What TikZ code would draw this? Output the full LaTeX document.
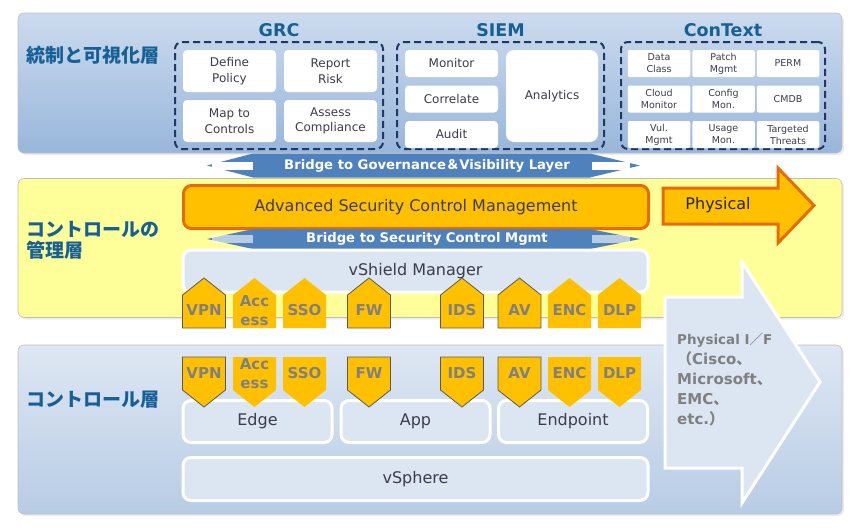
\documentclass[tikz,border=0pt]{standalone}
\usepackage{fontspec}
\setmainfont{DejaVu Sans}
\newfontfamily\jpfont{Noto Sans CJK JP}
\usetikzlibrary{positioning, shadows}
\definecolor{layerblue}{RGB}{23,96,150}
\definecolor{govtop}{RGB}{204,219,238}
\definecolor{govbot}{RGB}{152,182,219}
\definecolor{ctrltop}{RGB}{222,231,243}
\definecolor{ctrlbot}{RGB}{184,204,229}
\definecolor{mgmtyellow}{RGB}{255,255,153}
\definecolor{groupnavy}{RGB}{31,56,100}
\definecolor{boxtext}{RGB}{60,60,75}
\definecolor{boxblue}{RGB}{220,230,242}
\definecolor{bridgeblue}{RGB}{79,129,189}
\definecolor{tagorange}{RGB}{255,192,0}
\definecolor{edgeorange}{RGB}{228,108,10}
\definecolor{taggray}{RGB}{128,128,128}
\definecolor{tagline}{RGB}{90,90,90}

\begin{document}
\begin{tikzpicture}[x=1pt, y=-1pt,
    panel/.style={rounded corners=6, draw=black!25, line width=0.6, inner sep=0,
        drop shadow={opacity=0.15, shadow xshift=2pt, shadow yshift=-2pt}},
    layerlabel/.style={font=\jpfont\bfseries\fontsize{19}{21}\selectfont, text=layerblue, inner sep=1, align=left, anchor=west},
    group/.style={draw=groupnavy, line width=2, dash pattern=on 7pt off 4pt, rounded corners=7, inner sep=0},
    grouptitle/.style={font=\bfseries\fontsize{17.5}{20}\selectfont, text=layerblue, inner sep=1},
    cell/.style={fill=white, rounded corners=4, inner sep=0, outer sep=0, align=center, text=boxtext,
        minimum width=93, minimum height=42, font=\fontsize{12}{15.5}\selectfont},
    smallcell/.style={cell, rounded corners=2, minimum width=62.5, minimum height=27, font=\fontsize{9.5}{12}\selectfont},
    bridge/.style={fill=bridgeblue},
    bridgetext/.style={font=\bfseries\fontsize{13.2}{15}\selectfont, text=white, inner sep=0},
    mgmtbox/.style={fill=tagorange, draw=edgeorange, line width=3, rounded corners=8, inner sep=0,
        font=\fontsize{16}{18}\selectfont, text=boxtext},
    lightbox/.style={fill=boxblue, draw=white, line width=3, rounded corners=8, inner sep=0,
        font=\fontsize{16}{18}\selectfont, text=boxtext},
    tagshape/.style={fill=tagorange},
    outlined/.style={draw=tagline, line width=0.8},
    plainline/.style={},
    tagtext/.style={inner sep=0, align=center, text=taggray, font=\bfseries\fontsize{15}{19}\selectfont},
    iftext/.style={font=\bfseries\fontsize{15}{20}\selectfont, text=taggray, align=left, inner sep=0}]

    \useasboundingbox (0,0) rectangle (854,531);

    % Layers
    \node[panel, top color=govtop, bottom color=govbot, minimum width=824, minimum height=140] (gov) at (430,83) {};
    \node[panel, fill=mgmtyellow, minimum width=824, minimum height=139] (mgmt) at (430,248) {};
    \node[panel, top color=ctrltop, bottom color=ctrlbot, minimum width=824, minimum height=169] (ctrl) at (430,429.5) {};

    \node[layerlabel] (govlabel) at (25,55) {統制と可視化層};
    \node[layerlabel] (mgmtlabel) at (25,240) {コントロールの\\管理層};
    \node[layerlabel] (ctrllabel) at (25,400) {コントロール層};

    % Governance & visibility
    \node[group, minimum width=208, minimum height=107] (grc) at (279,95.5) {};
    \node[group, minimum width=207, minimum height=107] (siem) at (500.5,95.5) {};
    \node[group, minimum width=204, minimum height=107] (context) at (723,95.5) {};
    \node[grouptitle, above=3pt of grc] (grctitle) {GRC};
    \node[grouptitle, above=3pt of siem] (siemtitle) {SIEM};
    \node[grouptitle, above=3pt of context] (contexttitle) {ConText};

    \node[cell] (define) at (229.5,71) {Define\\Policy};
    \node[cell, right=8pt of define] (report) {Report\\Risk};
    \node[cell, below=8pt of define] (mapping) {Map to\\Controls};
    \node[cell, below=8pt of report] (assess) {Assess\\Compliance};

    \node[cell, minimum height=27] (monitor) at (451.5,63.5) {Monitor};
    \node[cell, minimum height=27, below=8.5pt of monitor] (correlate) {Correlate};
    \node[cell, minimum height=27, below=8.5pt of correlate] (audit) {Audit};
    \node[cell, minimum width=92, minimum height=92, rounded corners=8] (analytics) at (552,96) {Analytics};

    \node[smallcell] (dataclass) at (659,63.5) {Data\\Class};
    \node[smallcell, right=2pt of dataclass] (patch) {Patch\\Mgmt};
    \node[smallcell, right=2pt of patch] (perm) {PERM};
    \node[smallcell, below=8.5pt of dataclass] (cloud) {Cloud\\Monitor};
    \node[smallcell, right=2pt of cloud] (config) {Config\\Mon.};
    \node[smallcell, right=2pt of config] (cmdb) {CMDB};
    \node[smallcell, below=8.5pt of cloud] (vul) {Vul.\\Mgmt};
    \node[smallcell, right=2pt of vul] (usage) {Usage\\Mon.};
    \node[smallcell, right=2pt of usage] (threats) {Targeted\\Threats};

    % Bridges
    \fill[bridge] (207,165.5) -- (253,153.5) -- (590,153.5) -- (640,165.5) -- (590,177.5) -- (253,177.5) -- cycle;
    \fill[white] (212,162) rectangle (253,170);
    \fill[white] (592,162) rectangle (630,170);
    \node[bridgetext] (govbridge) at (427,165.5) {Bridge to Governance{\jpfont ＆}Visibility Layer};

    % Management
    \node[mgmtbox, minimum width=465, minimum height=43] (ascm) at (416,207) {Advanced Security Control Management};
    \filldraw[fill=tagorange, draw=edgeorange, line width=3, line join=miter]
        (663,188) -- (778,188) -- (778,168) -- (814,205.5) -- (778,243) -- (778,224) -- (663,224) -- cycle;
    \node[font=\fontsize{16}{18}\selectfont, text=black!85] (physical) at (718,205) {Physical};

    \fill[bridge] (207,239) -- (253,229) -- (590,229) -- (640,239) -- (590,249) -- (253,249) -- cycle;
    \fill[white, fill opacity=0.6] (212,235) rectangle (253,243);
    \fill[white, fill opacity=0.6] (592,235) rectangle (630,243);
    \node[bridgetext] (ctrlbridge) at (427,239) {Bridge to Security Control Mgmt};

    \node[lightbox, minimum width=465, minimum height=42] (vshield) at (415.5,271) {vShield Manager};

    \foreach \x/\id/\lbl/\look in {204/vpn/VPN/outlined, 254.5/access/{Acc\\ess}/plainline, 304.5/sso/SSO/plainline,
            369/fw/FW/outlined, 462/ids/IDS/outlined, 519.5/av/AV/outlined, 569.5/enc/ENC/plainline, 619.5/dlp/DLP/plainline} {
        \path[tagshape, \look] (\x-21.5,328) -- (\x-21.5,295) -- (\x,278) -- (\x+21.5,295) -- (\x+21.5,328) -- cycle;
        \node[tagtext] (\id up) at (\x,310.5) {\lbl};
    }

    % Control
    \filldraw[fill=boxblue, draw=white, line width=3, line join=miter]
        (665,297) -- (742,297) -- (742,262) -- (820,382) -- (742,503) -- (742,468) -- (665,468) -- cycle;
    \node[iftext, anchor=north west] (physif) at (677,333)
        {{\fontsize{13.5}{20}\selectfont Physical I{\jpfont ／}F}\\{\jpfont （}Cisco{\jpfont 、}\\Microsoft{\jpfont 、}\\EMC{\jpfont 、}\\etc.{\jpfont ）}};

    \node[lightbox, minimum width=149, minimum height=42] (edge) at (257.5,421.5) {Edge};
    \node[lightbox, minimum width=149, minimum height=42] (app) at (415.5,421.5) {App};
    \node[lightbox, minimum width=149, minimum height=42] (endpoint) at (573,421.5) {Endpoint};
    \node[lightbox, minimum width=465, minimum height=43] (vsphere) at (415.5,479) {vSphere};

    \foreach \x/\id/\lbl/\look in {204/vpn/VPN/outlined, 254.5/access/{Acc\\ess}/plainline, 304.5/sso/SSO/plainline,
            369/fw/FW/outlined, 462/ids/IDS/outlined, 519.5/av/AV/outlined, 569.5/enc/ENC/plainline, 619.5/dlp/DLP/plainline} {
        \path[tagshape, \look] (\x-21.5,357) -- (\x+21.5,357) -- (\x+21.5,390) -- (\x,407) -- (\x-21.5,390) -- cycle;
        \node[tagtext] (\id down) at (\x,373.5) {\lbl};
    }
\end{tikzpicture}
\end{document}
